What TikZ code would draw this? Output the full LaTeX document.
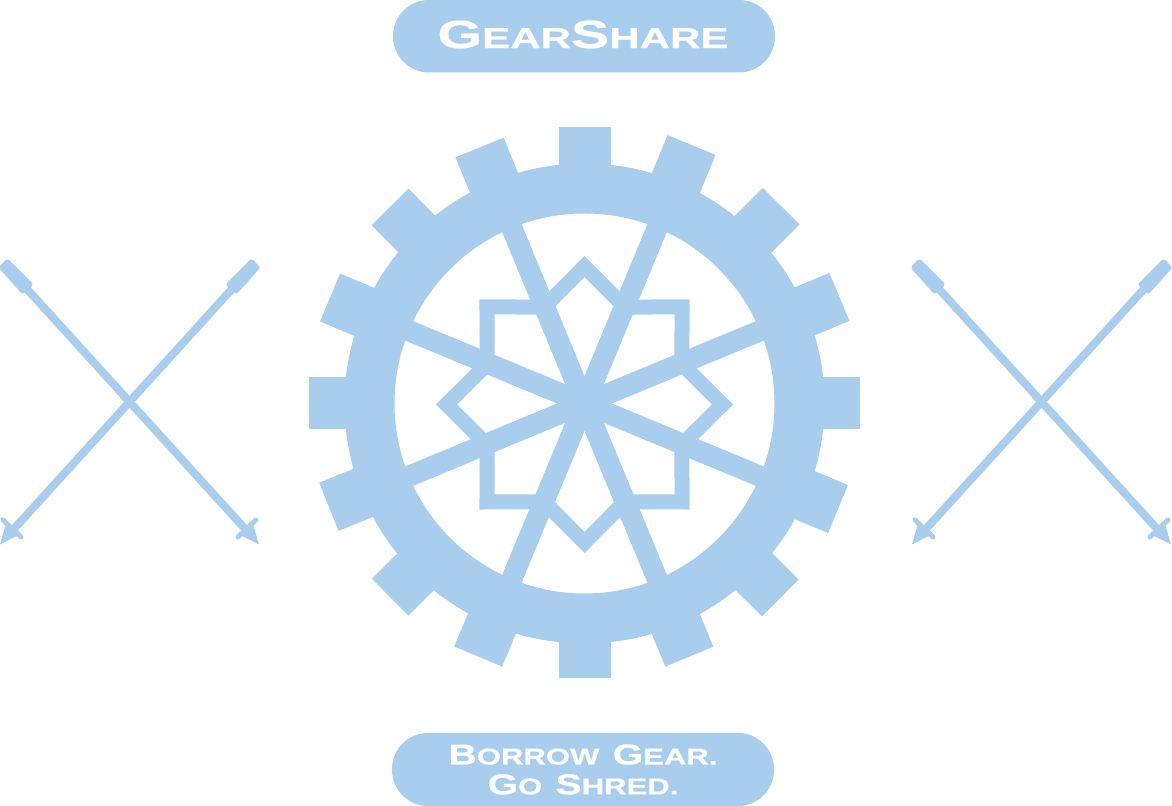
\documentclass[tikz,border=0pt]{standalone}
\usepackage{fontspec}
\newfontfamily\capsfont[FakeStretch=1.46,FakeBold=0.6]{Liberation Sans Bold}
\newfontfamily\slogancaps[FakeStretch=1.36,FakeBold=0.6]{Liberation Sans Bold}
\definecolor{gearblue}{HTML}{A9CDED}
\newcommand{\capsize}[2]{{\fontsize{#1}{#1}\selectfont #2}}
\tikzset{
    pill/.style={fill=gearblue,rounded corners=0.36cm,text=white,align=center,
        inner sep=0pt,minimum width=3.82cm,minimum height=0.725cm,font=\capsfont},
    skipole/.pic={
        \draw[gearblue,line width=0.08cm] (-1.025,1.13) -- (1.17,-1.285);
        \fill[gearblue,rounded corners=0.025cm] (-1.22,1.435) -- (-1.31,1.345)
            -- (-1.07,1.075) -- (-0.96,1.175) -- cycle;
        \draw[gearblue,line width=0.05cm,line cap=round] (1.265,-1.18) -- (1.085,-1.35);
        \fill[gearblue] (1.295,-1.425) -- (1.235,-1.22) -- (1.115,-1.335) -- cycle;
    }
}
\begin{document}
\begin{tikzpicture}[x=1cm,y=1cm]
    \useasboundingbox (0,0) rectangle (11.72,8.06);
    % Banners.
    \node[pill] (title) at (5.84,7.6975) {};
    \node[text=white,font=\capsfont,inner sep=0pt] (titletext) at (5.83,7.715)
        {\capsize{11.2pt}{G}\capsize{8.2pt}{EAR}\capsize{11.2pt}{S}\capsize{8.2pt}{HARE}};
    \node[pill,minimum height=0.73cm,font=\slogancaps] (slogan) at (5.83,0.365)
        {\capsize{8.2pt}{B}\capsize{6.5pt}{ORROW} \capsize{8.2pt}{G}\capsize{6.5pt}{EAR.}\\[-3.5pt]
         \capsize{8.2pt}{G}\capsize{6.5pt}{O} \capsize{8.2pt}{S}\capsize{6.5pt}{HRED.}};

    % Gear: teeth, ring, spokes, star.
    \coordinate (hub) at (5.845,4.025);
    \foreach \a/\r in {0/2.755,22.7/2.763,45.1/2.786,67.5/2.798,90/2.765,112.3/2.767,
        134.7/2.765,157.4/2.757,180/2.755,202/2.757,224.9/2.744,247.2/2.745,
        270/2.745,292.5/2.74,315.2/2.76,337.4/2.746}
        \fill[gearblue,shift={(hub)},rotate=\a] (2.2,-0.26) rectangle (\r,0.26);
    \draw[gearblue,line width=0.5cm] (hub) circle (2.15);
    \foreach \a in {22.5,67.5,112.5,157.5}
        \draw[gearblue,line width=0.21cm] ([shift={(\a:2.0)}]hub) -- ([shift={(\a+180:2.0)}]hub);
    \draw[gearblue,line width=0.15cm,miter limit=10,shift={(5.845,4.015)}]
        (0:1.379) \foreach \a in {1,...,15} {
            -- ({\a*22.5}:{mod(\a,2)==1 ? 1.055 : 1.379})
        } -- cycle;

    % Crossed poles.
    \pic at (1.295,4.04) {skipole};
    \pic[xscale=-1] at (1.295,4.04) {skipole};
    \pic at (10.415,4.04) {skipole};
    \pic[xscale=-1] at (10.415,4.04) {skipole};
\end{tikzpicture}
\end{document}
